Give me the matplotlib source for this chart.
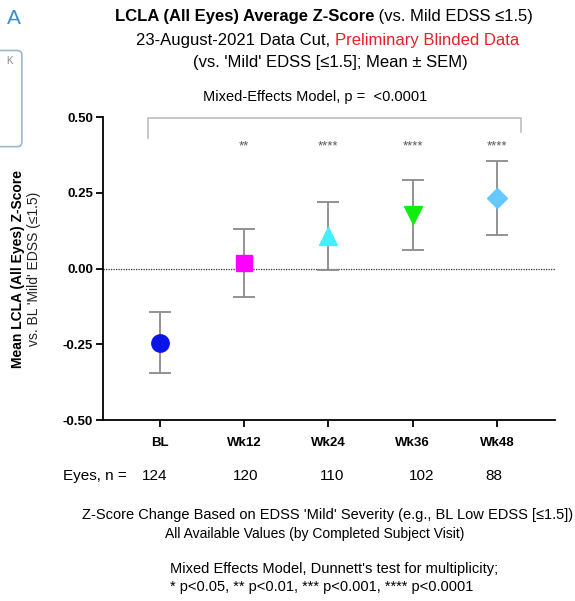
import numpy as np
import matplotlib.pyplot as plt
from matplotlib.patches import FancyBboxPatch

plt.rcParams['font.family'] = ['Liberation Sans', 'DejaVu Sans']

# data
visits = ['BL', 'Wk12', 'Wk24', 'Wk36', 'Wk48']
mean_z = [-0.244, 0.018, 0.108, 0.178, 0.234]
sem_z = [0.102, 0.112, 0.113, 0.115, 0.122]
eyes_n = [124, 120, 110, 102, 88]
stars = ['', '**', '****', '****', '****']
markers = ['o', 's', '^', 'v', 'D']
colors = ['#0a14e6', '#ff00ff', '#40f0ff', '#10ee10', '#66c8ff']
msizes = [12.5, 12, 13, 13, 10]

fig = plt.figure(figsize=(5.75, 6.01), dpi=100)
ax = fig.add_axes([0.179, 0.301, 0.786, 0.504])

x = np.arange(len(visits))
for i in range(len(visits)):
    ax.errorbar(x[i], mean_z[i], yerr=sem_z[i], fmt='none', ecolor='#8a8a8a',
                elinewidth=1.3, capsize=8, capthick=1.3, zorder=2)
    ax.plot(x[i], mean_z[i], marker=markers[i], color=colors[i], ms=msizes[i],
            mec=colors[i], ls='none', zorder=3)
    if stars[i]:
        ax.text(x[i], 0.405, stars[i], ha='center', va='center', fontsize=9.5,
                color='#555555')

ax.axhline(0, color='#333333', lw=0.9, ls=(0, (1, 1)), zorder=1)

# bracket for the overall model
bx = [-0.14, -0.14, 4.29, 4.29]
by = [0.43, 0.497, 0.497, 0.45]
ax.plot(bx, by, color='#bdbdbd', lw=1.2, clip_on=False)

ax.set_xlim(-0.68, 4.69)
ax.set_ylim(-0.5, 0.5)
ax.set_yticks([-0.5, -0.25, 0, 0.25, 0.5])
ax.set_yticklabels(['-0.50', '-0.25', '0.00', '0.25', '0.50'])
ax.set_xticks(x)
ax.set_xticklabels(visits)
for lab in ax.get_xticklabels() + ax.get_yticklabels():
    lab.set_fontweight('bold')
    lab.set_fontsize(9.5)
ax.tick_params(axis='x', length=5, width=1.3, pad=7)
ax.tick_params(axis='y', length=5, width=1.3, pad=2)
for s in ['top', 'right']:
    ax.spines[s].set_visible(False)
for s in ['left', 'bottom']:
    ax.spines[s].set_linewidth(1.3)

fig.text(0.031, 0.552, 'Mean LCLA (All Eyes) Z-Score', rotation=90, ha='center',
         va='center', fontsize=10, fontweight='bold')
fig.text(0.059, 0.552, "vs. BL 'Mild' EDSS (\u22641.5)", rotation=90, ha='center',
         va='center', fontsize=10, color='#222222')

fig.text(315 / 575, 1 - 97 / 601, 'Mixed-Effects Model, p =  <0.0001', ha='center',
         va='center', fontsize=10.5)

# the panel letter and the cut-off inset at the left edge
fig.text(0.012, 0.970, 'A', fontsize=15, color='#3a8fd0', va='center')
fig.patches.append(FancyBboxPatch((-0.02, 0.756), 0.058, 0.16,
                                  boxstyle='round,pad=0,rounding_size=0.008',
                                  transform=fig.transFigure, fc='white',
                                  ec='#9fb6cc', lw=1.2))
fig.text(0.017, 0.898, 'K', fontsize=7, color='#888888', va='center', ha='center')

# title pieces, joined side by side
fig.canvas.draw()
rend = fig.canvas.get_renderer()


def line_pieces(pieces, yfrac, cx, size=12):
    objs = []
    for txt, kw in pieces:
        objs.append(fig.text(0, yfrac, txt, va='center', fontsize=size, **kw))
    widths = [o.get_window_extent(rend).width for o in objs]
    left = cx - sum(widths) / 2
    for o, w in zip(objs, widths):
        o.set_x(left / 575)
        left += w


line_pieces([('LCLA (All Eyes) Average Z-Score', dict(fontweight='bold')),
             (' (vs. Mild EDSS \u22641.5)', {})], 1 - 17 / 601, 324)
line_pieces([('23-August-2021 Data Cut, ', {}),
             ('Preliminary Blinded Data', dict(color='#e8202a'))], 1 - 40 / 601, 328)
line_pieces([("(vs. 'Mild' EDSS [\u22641.5]; Mean \u00b1 SEM)", {})], 1 - 62 / 601, 330)

# n row
fig.text(63 / 575, 1 - 476 / 601, 'Eyes, n =', fontsize=11, va='center')
n_px = [155, 246, 332, 422, 494]
for px, n in zip(n_px, eyes_n):
    fig.text(px / 575, 1 - 476 / 601, str(n), fontsize=11, va='center', ha='center')

fig.text(328 / 575, 1 - 515 / 601,
         "Z-Score Change Based on EDSS 'Mild' Severity (e.g., BL Low EDSS [\u22641.5])",
         ha='center', va='center', fontsize=10.5)
fig.text(315 / 575, 1 - 534 / 601, 'All Available Values (by Completed Subject Visit)',
         ha='center', va='center', fontsize=10)
fig.text(170 / 575, 1 - 569 / 601,
         "Mixed Effects Model, Dunnett's test for multiplicity;",
         ha='left', va='center', fontsize=10.5)
fig.text(170 / 575, 1 - 587 / 601,
         '* p<0.05, ** p<0.01, *** p<0.001, **** p<0.0001',
         ha='left', va='center', fontsize=10.5)

fig.savefig('out.png', dpi=100)
